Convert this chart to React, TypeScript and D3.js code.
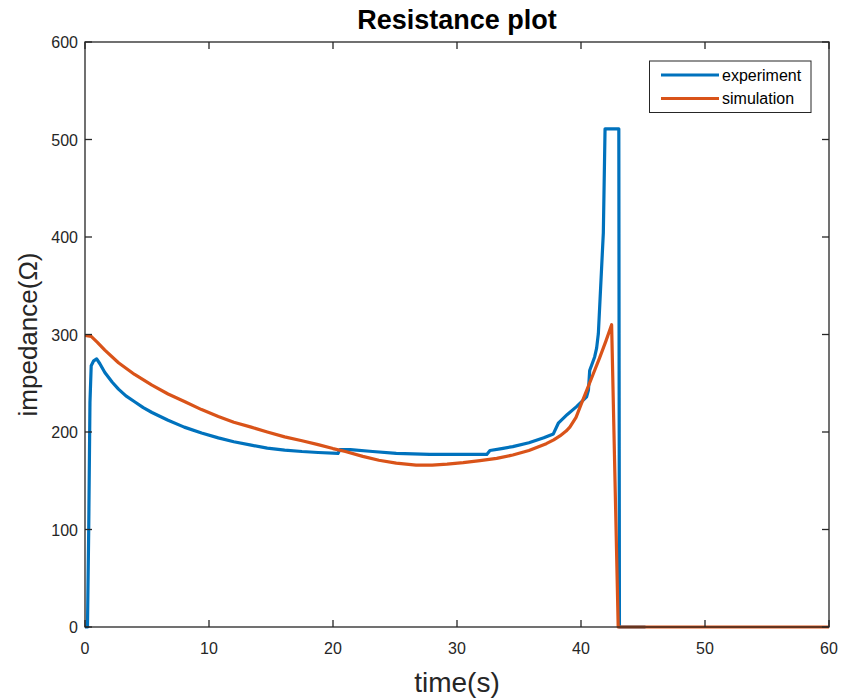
import React from "react";
import * as d3 from "d3";

const expT = [0, 0.2, 0.3, 0.4, 0.5, 0.7, 0.94, 1.2, 1.6, 2.2, 2.7, 3.3, 4.0, 4.7, 5.4, 6.7, 8.0, 9.4, 10.75, 12, 13.4, 14.7, 16.1, 17.5, 18.8, 20.4, 20.56, 21.4, 23.2, 25.1, 27.8, 30.5, 32.4, 32.66, 33.6, 34.5, 35.8, 37.0, 37.77, 38.17, 38.9, 39.64, 40.45, 40.6, 40.7, 41.1, 41.26, 41.4, 41.8, 41.94, 43.05, 43.1, 45.2];
const expV = [0, 0, 100, 230, 268, 273, 275, 270, 261, 251, 244, 237, 231, 225, 220, 212, 205, 199, 194, 190, 186.5, 183.5, 181.5, 180, 179, 178, 182, 182, 180, 178, 177, 177, 177, 181, 183, 185, 189, 194, 198, 209, 218, 226, 236, 243, 263, 277, 286, 301, 404, 511, 511, 0, 0];

const simT = [0, 0.5, 1.0, 1.6, 2.7, 4.0, 5.4, 6.7, 8.06, 9.4, 10.75, 12, 13.4, 14.7, 16.1, 17.5, 18.8, 20, 21, 22.4, 23.7, 25.1, 26.7, 28, 29.2, 30.5, 31.85, 33.2, 34.5, 35.8, 37.2, 37.8, 38.3, 38.8, 39.1, 39.6, 40.0, 40.5, 41.0, 41.5, 42.0, 42.47, 43.0, 60];
const simV = [299, 298, 292, 284, 271, 259, 248, 239, 231, 223, 216, 210, 205, 200, 195, 191, 187, 183, 180, 175, 171, 168, 166, 166, 167, 168.5, 170.6, 173, 176.4, 181, 188, 192, 196, 201, 205, 215, 228, 244, 260, 276, 293, 310, 0, 0];

const xTicks = [0, 10, 20, 30, 40, 50, 60];
const yTicks = [0, 100, 200, 300, 400, 500, 600];

const seriesNames = ["experiment", "simulation"];
const seriesColors = ["#0072BD", "#D95319"];

export default function App() {
  const W = 841, H = 700;
  const L = 85, R = 829, T = 42, B = 627;
  const x = d3.scaleLinear().domain([0, 60]).range([L, R]);
  const y = d3.scaleLinear().domain([0, 600]).range([B, T]);
  const line = d3.line<[number, number]>().x(d => x(d[0])).y(d => y(d[1]));
  const expPts = expT.map((t, i) => [t, expV[i]] as [number, number]);
  const simPts = simT.map((t, i) => [t, simV[i]] as [number, number]);
  const font = "'Liberation Sans', Arial, Helvetica, sans-serif";
  const axisColor = "#262626";
  const tl = 7;
  return (
    <svg width={W} height={H} style={{ position: "absolute", left: 0, top: 0, background: "#fff" }} fontFamily={font}>
      <rect x={0} y={0} width={W} height={H} fill="#fff" />
      <defs>
        <clipPath id="clip">
          <rect x={L} y={T - 2} width={R - L} height={B - T + 4} />
        </clipPath>
      </defs>
      <g clipPath="url(#clip)">
        <path d={line(expPts) || ""} fill="none" stroke={seriesColors[0]} strokeWidth={3.2} strokeLinejoin="round" />
        <path d={line(simPts) || ""} fill="none" stroke={seriesColors[1]} strokeWidth={3.2} strokeLinejoin="round" />
      </g>
      <rect x={L} y={T} width={R - L} height={B - T} fill="none" stroke={axisColor} strokeWidth={1.3} />
      {xTicks.map(t => (
        <g key={"x" + t}>
          <line x1={x(t)} x2={x(t)} y1={B} y2={B - tl} stroke={axisColor} strokeWidth={1.3} />
          <line x1={x(t)} x2={x(t)} y1={T} y2={T + tl} stroke={axisColor} strokeWidth={1.3} />
          <text x={x(t)} y={B + 27} textAnchor="middle" fontSize={16} fill={axisColor}>{t}</text>
        </g>
      ))}
      {yTicks.map(v => (
        <g key={"y" + v}>
          <line x1={L} x2={L + tl} y1={y(v)} y2={y(v)} stroke={axisColor} strokeWidth={1.3} />
          <line x1={R} x2={R - tl} y1={y(v)} y2={y(v)} stroke={axisColor} strokeWidth={1.3} />
          <text x={L - 7} y={y(v) + 6} textAnchor="end" fontSize={16} fill={axisColor}>{v}</text>
        </g>
      ))}
      <text x={(L + R) / 2} y={692} textAnchor="middle" fontSize={28} fill={axisColor}>time(s)</text>
      <text transform={`translate(37,${(T + B) / 2}) rotate(-90)`} textAnchor="middle" fontSize={26} fill={axisColor}>impedance(Ω)</text>
      <text x={(L + R) / 2} y={29} textAnchor="middle" fontSize={27} fontWeight="bold" fill="#000">Resistance plot</text>
      <rect x={649.5} y={61} width={161.5} height={51.5} fill="#fff" stroke={axisColor} strokeWidth={1} />
      {seriesNames.map((n, i) => (
        <g key={n}>
          <line x1={661} x2={719} y1={75 + i * 23.5} y2={75 + i * 23.5} stroke={seriesColors[i]} strokeWidth={3.2} />
          <text x={722} y={80.5 + i * 23.5} fontSize={16} fill="#000">{n}</text>
        </g>
      ))}
    </svg>
  );
}
